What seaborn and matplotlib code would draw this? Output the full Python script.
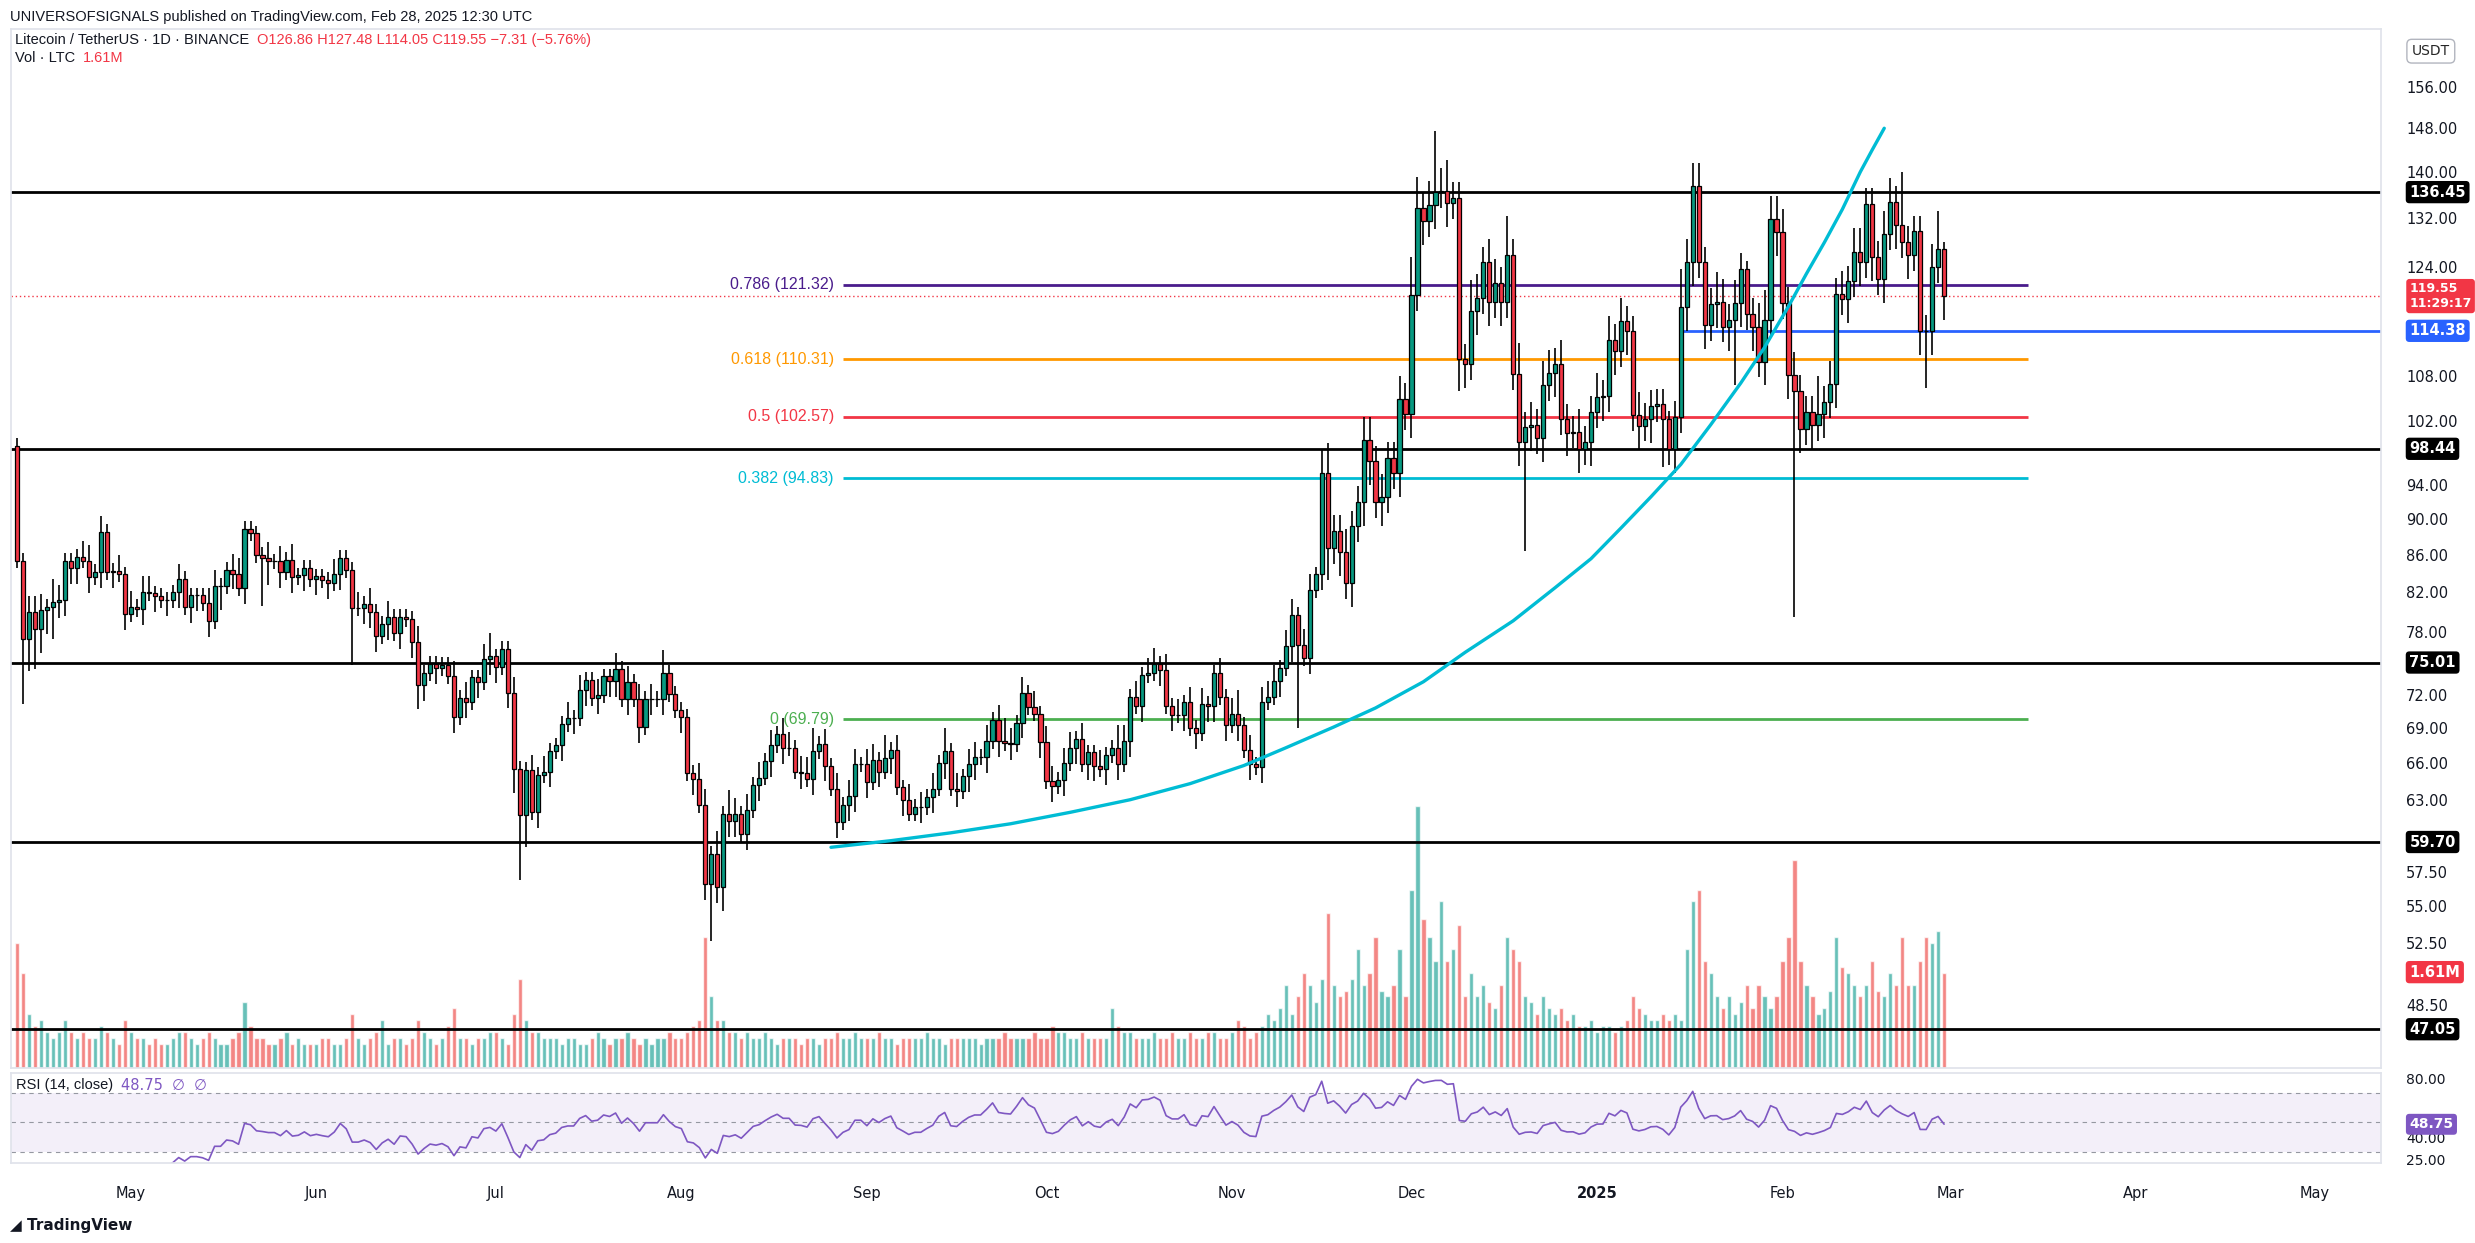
import numpy as np
import pandas as pd
import matplotlib
matplotlib.use("Agg")
import matplotlib.pyplot as plt
import matplotlib.dates as mdates
import matplotlib.transforms as mtransforms
import seaborn as sns

sns.set_theme(style="white")
plt.rcParams["font.family"] = "DejaVu Sans"

######################################################
# Daily LTC/USDT closes (last candle = Feb 28, 2025)
first_open = 98.8
closes = [
    85.4, 77.3, 80.0, 78.3, 80.2, 80.5, 81.0, 81.2, 85.4, 84.6,
    85.8, 85.4, 83.6, 84.2, 88.6, 84.2, 84.3, 83.9, 79.8, 80.5,
    80.3, 82.1, 81.9, 81.6, 81.2, 81.2, 82.0, 83.4, 80.5, 81.7,
    81.7, 80.9, 79.1, 82.7, 82.7, 84.4, 84.0, 82.5, 88.9, 88.4,
    86.0, 85.7, 85.3, 85.3, 84.2, 85.5, 83.6, 83.8, 84.6, 83.4,
    83.7, 83.3, 83.0, 83.9, 85.7, 84.4, 80.4, 80.4, 80.8, 80.0,
    77.6, 78.8, 79.5, 77.9, 79.5, 79.3, 77.0, 72.9, 74.0, 74.9,
    74.5, 74.8, 73.7, 70.0, 71.7, 71.3, 73.6, 73.2, 75.3, 75.6,
    74.6, 76.3, 72.2, 65.5, 61.8, 65.4, 62.0, 65.0, 65.3, 67.0,
    67.5, 69.4, 69.9, 69.9, 72.4, 73.4, 71.7, 72.0, 73.7, 73.3,
    74.4, 71.6, 73.2, 71.6, 69.1, 71.6, 71.6, 71.6, 74.0, 72.1,
    70.6, 70.0, 65.2, 64.7, 62.6, 56.6, 58.8, 56.4, 61.9, 61.3,
    61.9, 60.3, 62.2, 64.2, 64.8, 66.2, 67.5, 68.5, 67.3, 67.3,
    65.3, 65.2, 64.7, 67.0, 67.6, 65.8, 63.9, 61.2, 62.6, 63.3,
    65.9, 65.9, 64.4, 66.3, 65.3, 66.4, 67.1, 64.0, 63.0, 61.9,
    62.4, 62.4, 63.2, 63.9, 66.0, 67.0, 63.9, 63.7, 64.9, 65.9,
    66.5, 66.5, 67.9, 69.7, 67.9, 67.7, 67.6, 69.5, 72.2, 70.9,
    70.3, 67.8, 64.5, 64.1, 64.6, 66.0, 67.3, 68.1, 65.9, 66.9,
    65.8, 65.5, 66.7, 67.3, 65.9, 67.9, 71.8, 71.0, 73.8, 74.0,
    74.9, 74.3, 71.0, 70.2, 70.2, 71.3, 69.0, 68.6, 71.2, 71.0,
    74.0, 71.8, 69.3, 70.3, 69.3, 67.1, 65.9, 65.7, 71.3, 71.8,
    73.3, 74.5, 76.6, 79.7, 76.7, 75.4, 82.3, 83.9, 95.4, 86.8,
    88.7, 86.3, 83.0, 89.2, 92.0, 99.5, 96.9, 92.0, 92.6, 97.3,
    95.5, 104.9, 102.9, 119.7, 133.7, 131.5, 134.3, 136.5, 136.6, 134.6,
    135.5, 110.3, 109.6, 117.3, 119.3, 124.8, 118.7, 121.6, 118.7, 126.0,
    108.3, 99.3, 101.2, 101.5, 99.8, 106.8, 108.4, 109.7, 102.2, 100.5,
    100.6, 98.4, 99.3, 103.2, 105.2, 105.3, 113.1, 111.5, 115.8, 114.3,
    102.8, 101.4, 102.3, 104.0, 104.2, 102.3, 98.4, 102.5, 117.9, 124.8,
    137.5, 124.8, 115.2, 118.4, 118.6, 115.0, 116.0, 118.5, 123.8, 116.9,
    115.0, 110.0, 115.9, 131.9, 129.7, 118.5, 108.1, 106.0, 100.9, 103.2,
    101.5, 102.9, 104.5, 106.9, 119.9, 119.1, 121.8, 126.5, 124.9, 134.4,
    125.7, 122.2, 129.4, 134.8, 130.8, 128.1, 126.0, 129.8, 114.4, 114.3,
    124.0, 126.86, 119.55,
]
# wick sizes above / below the body, % of price, one base-36 char per candle
wick_up = ("1122213211 1221211212 1221111211 1122112211 1121212111 1112111212 "
           "1121111211 1112121123 1112112121 1121211211 2121212131 1111221313 "
           "2121212122 1223121212 2122131212 1212131212 2121232121 2122122121 "
           "1211321212 2121212121 1212312122 2122122134 2232233232 2325423834 "
           "2224323325 2423233232 2322323232 2322221253 3322432321 2343332322 "
           "2523232332 2233272222 351")
wick_dn = ("1845334222 2121212121 1212121212 2121312121 1631212121 2121217122 "
           "2121212321 2112121212 2123841212 1212121212 2121212121 1212127232 "
           "2121212121 1212121212 2121212121 1212121212 2121212121 1212121212 "
           "2121212121 1212121212 2121212121 1212a12124 2323233232 2323232323 "
           "2432323232 23d3232323 2323232323 2323262323 3232323832 3232323p32 "
           "3232323232 3232323237 323")
# volume, 0.1M LTC
volume = [
    21, 16, 9, 7, 8, 6, 5, 6, 8, 6, 5, 6, 5, 5, 7, 6, 5, 4, 8, 6,
    5, 5, 4, 5, 4, 4, 5, 6, 6, 5, 4, 5, 6, 5, 4, 4, 5, 6, 11, 7,
    5, 5, 4, 4, 5, 6, 4, 5, 4, 4, 4, 5, 5, 4, 4, 5, 9, 5, 4, 5,
    6, 8, 4, 5, 5, 4, 5, 8, 6, 5, 4, 5, 7, 10, 5, 5, 4, 5, 5, 6,
    6, 5, 4, 9, 15, 8, 6, 6, 5, 5, 5, 4, 5, 5, 4, 4, 5, 6, 5, 4,
    5, 5, 6, 5, 4, 5, 4, 5, 5, 6, 5, 5, 6, 7, 8, 22, 12, 8, 8, 6,
    6, 5, 6, 5, 5, 6, 5, 4, 5, 5, 5, 4, 5, 5, 4, 5, 5, 6, 5, 5,
    6, 5, 5, 5, 6, 5, 5, 4, 5, 5, 5, 5, 6, 5, 5, 4, 5, 5, 5, 5,
    5, 4, 5, 5, 5, 6, 5, 5, 5, 5, 6, 5, 5, 7, 6, 6, 5, 5, 6, 5,
    5, 5, 5, 10, 7, 6, 6, 5, 5, 5, 6, 5, 5, 6, 5, 5, 6, 5, 5, 6,
    6, 5, 5, 6, 8, 7, 5, 6, 7, 9, 8, 10, 14, 9, 12, 16, 14, 11, 15, 26,
    14, 12, 13, 15, 20, 14, 16, 22, 13, 12, 14, 20, 12, 30, 44, 25, 22, 18, 28, 18,
    20, 24, 12, 16, 12, 14, 11, 10, 14, 22, 20, 18, 12, 11, 9, 12, 10, 9, 10, 8,
    9, 7, 7, 8, 6, 7, 7, 6, 7, 8, 12, 10, 9, 8, 8, 9, 8, 9, 8, 20,
    28, 30, 18, 16, 12, 10, 12, 9, 11, 14, 10, 14, 12, 10, 12, 18, 22, 35, 18, 14,
    12, 9, 10, 13, 22, 17, 16, 14, 12, 14, 18, 13, 12, 16, 14, 22, 14, 14, 18, 22,
    21, 23, 16,
]

h_levels = [136.45, 98.44, 75.01, 59.70, 47.05]
fib_ratios = ["0.786", "0.618", "0.5", "0.382", "0"]
fib_prices = [121.32, 110.31, 102.57, 94.83, 69.79]
fib_colors = ["#4a1c8c", "#ff9800", "#f23645", "#00bcd4", "#4caf50"]
curve_dates = ["2024-08-26", "2024-09-05", "2024-09-15", "2024-09-25", "2024-10-05",
               "2024-10-15", "2024-10-25", "2024-11-03", "2024-11-10", "2024-11-18",
               "2024-11-25", "2024-12-03", "2024-12-10", "2024-12-18", "2024-12-25",
               "2024-12-31", "2025-01-05", "2025-01-10", "2025-01-15", "2025-01-20",
               "2025-01-25", "2025-01-29", "2025-02-02", "2025-02-05", "2025-02-08",
               "2025-02-11", "2025-02-14", "2025-02-16", "2025-02-18"]
curve_prices = [59.3, 59.8, 60.4, 61.1, 62.0, 63.0, 64.3, 65.8, 67.3, 69.1,
                70.8, 73.2, 76.0, 79.1, 82.5, 85.6, 89.0, 92.6, 96.5, 101.5,
                107.0, 112.0, 118.0, 123.0, 128.0, 133.5, 140.0, 144.0, 148.0]
price_ticks = [156, 148, 140, 132, 124, 108, 102, 94, 90, 86, 82, 78, 72, 69, 66, 63,
               57.5, 55, 52.5, 48.5]
month_ticks = ["2024-05-01", "2024-06-01", "2024-07-01", "2024-08-01", "2024-09-01",
               "2024-10-01", "2024-11-01", "2024-12-01", "2025-01-01", "2025-02-01",
               "2025-03-01", "2025-04-01", "2025-05-01"]
month_labels = ["May", "Jun", "Jul", "Aug", "Sep", "Oct", "Nov", "Dec", "2025", "Feb",
                "Mar", "Apr", "May"]

######################################################
n = len(closes)
dates = pd.date_range(end="2025-02-28", periods=n, freq="D")
df = pd.DataFrame({"date": dates, "close": closes,
                   "up": [int(c, 36) for c in wick_up.replace(" ", "")],
                   "dn": [int(c, 36) for c in wick_dn.replace(" ", "")],
                   "vol": [v / 10 for v in volume]})
df["open"] = [first_open] + closes[:-1]
top = df[["open", "close"]].max(axis=1)
bot = df[["open", "close"]].min(axis=1)
df["high"] = top * (1 + df["up"] / 100)
df["low"] = bot * (1 - df["dn"] / 100)
df["x"] = mdates.date2num(df["date"])
rising = df["close"] >= df["open"]

# RSI 14 (Wilder)
delta = df["close"].diff()
gain = delta.clip(lower=0).ewm(alpha=1 / 14, adjust=False).mean()
loss = (-delta.clip(upper=0)).ewm(alpha=1 / 14, adjust=False).mean()
df["rsi"] = 100 - 100 / (1 + gain / loss)
df.loc[:2, "rsi"] = np.nan

GREEN, RED = "#089981", "#f23645"
HEAD = "Liberation Sans"
fig = plt.figure(figsize=(24.75, 12.43), dpi=100)
ax = fig.add_axes([0.0045, 0.141, 0.9575, 0.836])
axv = ax.twinx()
axr = fig.add_axes([0.0045, 0.064, 0.9575, 0.073], sharex=ax)
xmin = mdates.date2num(pd.Timestamp("2024-04-11"))
xmax = mdates.date2num(pd.Timestamp("2025-05-12"))

# volume under the candles
axv.bar(df["x"], df["vol"], width=0.7,
        color=np.where(rising, "#26a69a", "#ef5350"), alpha=0.7, zorder=0)
axv.set_ylim(0, 17.5)
axv.set_yticks([])
ax.set_zorder(axv.get_zorder() + 1)
ax.patch.set_visible(False)

# candles
colors = np.where(rising, GREEN, RED)
ax.vlines(df["x"], df["low"], df["high"], color="black", lw=1.2, zorder=3)
ax.bar(df["x"], top - bot, bottom=bot, width=0.7, color=colors,
       edgecolor="black", linewidth=0.9, zorder=4)

ax.set_yscale("log")
ax.set_ylim(44.8, 168)
ax.set_xlim(xmin, xmax)

for lv in h_levels:
    ax.axhline(lv, color="black", lw=2, zorder=2)

fib_x0 = mdates.date2num(pd.Timestamp("2024-08-28"))
fib_x1 = mdates.date2num(pd.Timestamp("2025-03-14"))
for r, p, c in zip(fib_ratios, fib_prices, fib_colors):
    ax.hlines(p, fib_x0, fib_x1, color=c, lw=2, zorder=2)
    ax.text(fib_x0 - 1.5, p, f"{r} ({p:.2f})", color=c, fontsize=11.5, family=HEAD,
            ha="right", va="center", zorder=5)

ax.hlines(114.38, mdates.date2num(pd.Timestamp("2025-01-15")), xmax,
          color="#2962ff", lw=2, zorder=2)
ax.axhline(119.55, color=RED, lw=1, ls=(0, (1, 2)), zorder=2)

cx = mdates.date2num(pd.to_datetime(curve_dates))
sns.lineplot(x=cx, y=curve_prices, ax=ax, color="#00bcd4", lw=2.4, zorder=5)

# right price scale
ax.yaxis.tick_right()
ax.set_yticks(price_ticks)
ax.set_yticklabels([f"{t:.2f}" for t in price_ticks])
ax.yaxis.set_minor_locator(matplotlib.ticker.NullLocator())
ax.tick_params(axis="y", length=0, pad=18, labelsize=10.5, colors="#131722")
ax.tick_params(axis="x", bottom=False, labelbottom=False)
for s in ax.spines.values():
    s.set_color("#e0e3eb")
for s in axv.spines.values():
    s.set_visible(False)

tr = mtransforms.blended_transform_factory(ax.transAxes, ax.transData)


def tag(axis, trans, y, txt, fc, fs=10.5):
    axis.text(1.012, y, txt, transform=trans, fontsize=fs, color="white",
              ha="left", va="center", fontweight="bold", zorder=10,
              bbox=dict(boxstyle="round,pad=0.25", fc=fc, ec="none"))


for lv in h_levels:
    tag(ax, tr, lv, f"{lv:.2f}", "black")
tag(ax, tr, 119.55, "119.55\n11:29:17", RED, fs=9)
tag(ax, tr, 114.38, "114.38", "#2962ff")
trv = mtransforms.blended_transform_factory(axv.transAxes, axv.transData)
tag(axv, trv, 1.61, "1.61M", RED)
ax.text(1.013, 0.985, "USDT", transform=ax.transAxes, fontsize=10, ha="left", va="top",
        bbox=dict(boxstyle="round,pad=0.35", fc="white", ec="#b2b5be"))


def chain(prev, txt, color, family=HEAD):
    # put a text right after another one
    return plt.annotate(
        txt, xy=(1, 0.5), xycoords=prev, xytext=(6, 0), textcoords="offset points",
        va="center", ha="left", fontsize=10.5, family=family, color=color,
        annotation_clip=False)


# RSI pane
axr.axhspan(30, 70, color="#7e57c2", alpha=0.09, lw=0)
for lv in (70, 50, 30):
    axr.axhline(lv, color="#9598a1", lw=0.8, ls=(0, (4, 4)))
sns.lineplot(data=df, x="x", y="rsi", ax=axr, color="#7e57c2", lw=1.2)
axr.set_ylim(22, 84)
axr.set_xlim(xmin, xmax)
axr.yaxis.tick_right()
axr.set_yticks([80, 40, 25])
axr.set_yticklabels(["80.00", "40.00", "25.00"])
axr.tick_params(axis="y", length=0, pad=18, labelsize=10, colors="#131722")
axr.set_ylabel("")
axr.set_xlabel("")
for s in axr.spines.values():
    s.set_color("#e0e3eb")
axr.text(1.012, 48.75, "48.75", transform=mtransforms.blended_transform_factory(
    axr.transAxes, axr.transData), fontsize=10, color="white", ha="left", va="center",
    fontweight="bold", bbox=dict(boxstyle="round,pad=0.25", fc="#7e57c2", ec="none"))
rsi_lab = axr.text(0.002, 0.86, "RSI (14, close)", transform=axr.transAxes, fontsize=10.5,
                   family=HEAD, color="#131722", va="center")
chain(rsi_lab, "48.75  ∅  ∅", "#7e57c2", family="DejaVu Sans")

mt = mdates.date2num(pd.to_datetime(month_ticks))
axr.set_xticks(mt)
axr.set_xticklabels(month_labels)
axr.tick_params(axis="x", length=0, pad=16, labelsize=10.5, colors="#131722")
for lab in axr.get_xticklabels():
    if lab.get_text() == "2025":
        lab.set_fontweight("bold")

# header texts
fig.text(0.004, 0.992, "UNIVERSOFSIGNALS published on TradingView.com, Feb 28, 2025 12:30 UTC",
         fontsize=10.5, family=HEAD, color="#131722", va="top")
t1 = fig.text(0.006, 0.968, "Litecoin / TetherUS · 1D · BINANCE", fontsize=10.5, family=HEAD,
              color="#131722", va="center")
chain(t1, "O126.86 H127.48 L114.05 C119.55 −7.31 (−5.76%)", RED)
t2 = fig.text(0.006, 0.953, "Vol · LTC", fontsize=10.5, family=HEAD, color="#131722",
              va="center")
chain(t2, "1.61M", RED)
fig.text(0.004, 0.014, "◢ TradingView", fontsize=11, color="#131722", va="center",
         fontweight="bold")

fig.savefig("out.png", dpi=100, facecolor="white")
print(n)
